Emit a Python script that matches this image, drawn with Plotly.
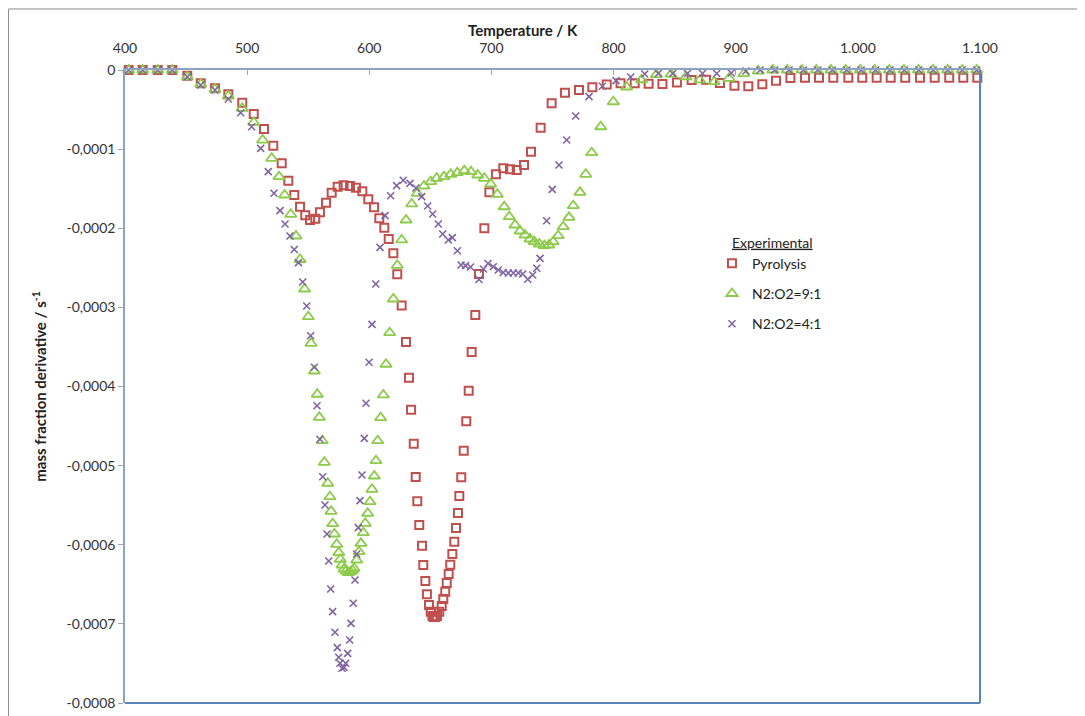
import plotly.graph_objects as go

# Temperature (K) and mass fraction derivative (1/s)
pyro_T = [403, 414.5, 426.8, 438.7, 451.0, 462.0, 473.7, 484.6, 496.0, 505.4, 513.8, 521.4, 528.3, 533.7, 538.6,
          543.3, 547.6, 551.5, 555.8, 559.6, 564.6, 569.2, 574.1, 579.0, 584.2, 589.1, 594.3, 599.2, 603.9, 608.2,
          612.3, 615.9, 619.7, 622.9, 626.5, 630.1, 632.5, 634.2, 636.4, 638.0, 639.3, 640.9, 643.2, 644.2, 645.9,
          647.2, 648.9, 650.3, 651.7, 652.9, 654.1, 655.4, 657.3, 659.3, 660.6, 662.2, 663.4, 665.0, 666.3, 668.0,
          669.6, 671.0, 672.6, 673.7, 675.3, 677.3, 679.4, 681.4, 683.8, 686.8, 689.8, 694.2, 698.3, 703.7, 709.7,
          715.2, 720.7, 726.7, 732.4, 740.3, 749.3, 760.2, 771.7, 782.6, 794.4, 805.7, 817.3, 828.7, 840.0, 851.9,
          863.9, 875.7, 887.1, 899.0, 910.3, 921.8, 933.0, 944.8, 956.7, 968.2, 979.9, 992.2, 1003.6, 1015.4, 1026.9,
          1038.8, 1050.9, 1062.9, 1074.8, 1086.3, 1097.8]
pyro_v = [0, 0, 0, 0, -0.072e-4, -0.168e-4, -0.231e-4, -0.307e-4, -0.413e-4, -0.556e-4, -0.746e-4, -0.957e-4,
          -1.179e-4, -1.399e-4, -1.580e-4, -1.728e-4, -1.836e-4, -1.896e-4, -1.879e-4, -1.798e-4, -1.677e-4,
          -1.551e-4, -1.475e-4, -1.457e-4, -1.466e-4, -1.487e-4, -1.533e-4, -1.634e-4, -1.735e-4, -1.874e-4,
          -1.993e-4, -2.136e-4, -2.317e-4, -2.582e-4, -2.976e-4, -3.438e-4, -3.889e-4, -4.293e-4, -4.723e-4,
          -5.144e-4, -5.451e-4, -5.750e-4, -6.012e-4, -6.256e-4, -6.458e-4, -6.626e-4, -6.761e-4, -6.846e-4,
          -6.900e-4, -6.913e-4, -6.913e-4, -6.900e-4, -6.846e-4, -6.774e-4, -6.685e-4, -6.593e-4, -6.483e-4,
          -6.370e-4, -6.252e-4, -6.117e-4, -5.961e-4, -5.788e-4, -5.599e-4, -5.384e-4, -5.147e-4, -4.811e-4,
          -4.440e-4, -4.053e-4, -3.564e-4, -3.096e-4, -2.578e-4, -2.001e-4, -1.546e-4, -1.318e-4, -1.242e-4,
          -1.255e-4, -1.264e-4, -1.201e-4, -1.033e-4, -0.729e-4, -0.421e-4, -0.287e-4, -0.253e-4, -0.219e-4,
          -0.183e-4, -0.168e-4, -0.168e-4, -0.173e-4, -0.177e-4, -0.158e-4, -0.126e-4, -0.123e-4, -0.164e-4,
          -0.198e-4, -0.205e-4, -0.179e-4, -0.135e-4, -0.101e-4, -0.097e-4, -0.097e-4, -0.097e-4, -0.097e-4,
          -0.097e-4, -0.097e-4, -0.097e-4, -0.097e-4, -0.097e-4, -0.097e-4, -0.097e-4, -0.097e-4, -0.097e-4]

o91_T = [403, 414.5, 426.8, 438.7, 451.0, 462.0, 473.7, 484.6, 496.0, 505.4, 512.7, 520.1, 526.1, 530.7, 535.7,
         540.0, 543.3, 547.0, 550.1, 552.3, 555.0, 557.4, 559.1, 561.5, 563.2, 566.0, 567.8, 568.7, 570.0, 571.4,
         573.3, 575.0, 576.3, 577.7, 579.3, 580.9, 582.8, 584.6, 586.3, 587.5, 589.7, 591.6, 593.2, 595.1, 596.7,
         598.7, 600.6, 602.2, 604.1, 605.5, 606.9, 609.3, 611.5, 613.7, 616.7, 619.7, 622.9, 626.5, 630.1, 634.7,
         639.3, 644.8, 650.3, 655.2, 661.2, 666.7, 672.1, 677.8, 683.3, 688.8, 694.2, 699.4, 704.8, 710.5, 714.6,
         719.3, 723.4, 727.5, 731.6, 735.1, 739.2, 743.3, 747.1, 750.6, 754.7, 758.8, 763.5, 767.0, 772.5, 777.2,
         782.1, 789.5, 799.8, 810.7, 822.9, 835.1, 847.0, 859.3, 870.5, 882.4, 894.5, 906.6, 918.5, 930.3, 942.2,
         954.2, 966.1, 978.0, 990.0, 1001.9, 1013.8, 1025.8, 1037.7, 1049.6, 1061.5, 1073.5, 1085.4, 1097.3]
o91_v = [0, 0, 0, 0, -0.085e-4, -0.177e-4, -0.244e-4, -0.329e-4, -0.484e-4, -0.661e-4, -0.885e-4, -1.116e-4,
         -1.348e-4, -1.580e-4, -1.824e-4, -2.098e-4, -2.395e-4, -2.768e-4, -3.118e-4, -3.454e-4, -3.804e-4,
         -4.098e-4, -4.389e-4, -4.685e-4, -4.958e-4, -5.223e-4, -5.393e-4, -5.577e-4, -5.734e-4, -5.864e-4,
         -5.994e-4, -6.100e-4, -6.184e-4, -6.256e-4, -6.306e-4, -6.331e-4, -6.353e-4, -6.344e-4, -6.325e-4,
         -6.297e-4, -6.193e-4, -6.088e-4, -5.982e-4, -5.848e-4, -5.729e-4, -5.602e-4, -5.456e-4, -5.299e-4,
         -5.131e-4, -4.938e-4, -4.685e-4, -4.394e-4, -4.107e-4, -3.719e-4, -3.320e-4, -2.894e-4, -2.468e-4,
         -2.148e-4, -1.896e-4, -1.693e-4, -1.558e-4, -1.466e-4, -1.412e-4, -1.369e-4, -1.348e-4, -1.318e-4,
         -1.298e-4, -1.273e-4, -1.285e-4, -1.327e-4, -1.369e-4, -1.441e-4, -1.571e-4, -1.728e-4, -1.854e-4,
         -1.959e-4, -2.035e-4, -2.085e-4, -2.136e-4, -2.170e-4, -2.199e-4, -2.220e-4, -2.212e-4, -2.170e-4,
         -2.094e-4, -1.980e-4, -1.862e-4, -1.715e-4, -1.546e-4, -1.318e-4, -1.045e-4, -0.717e-4, -0.401e-4,
         -0.215e-4, -0.123e-4, -0.059e-4, -0.053e-4, -0.085e-4, -0.126e-4, -0.148e-4, -0.105e-4, -0.047e-4,
         -0.013e-4, 0, 0, 0, 0, 0, 0, 0, 0, 0, 0, 0, 0, 0, 0, 0]

o41_T = [403, 414.5, 426.8, 438.7, 451.0, 462.0, 473.7, 484.6, 494.7, 503.7, 511.1, 517.3, 522.0, 526.9, 531.0,
         535.1, 538.6, 542.0, 545.5, 548.8, 552.0, 555.0, 557.2, 559.6, 561.9, 563.7, 565.4, 566.8, 568.4, 570.0,
         571.9, 573.8, 575.0, 576.0, 577.7, 579.3, 580.7, 582.3, 584.0, 585.0, 586.9, 588.3, 589.7, 591.0, 592.4,
         594.0, 595.9, 597.3, 599.8, 602.2, 605.3, 608.8, 612.9, 617.5, 622.4, 627.8, 633.3, 638.2, 642.9, 647.8,
         651.9, 656.5, 660.1, 664.7, 668.0, 672.1, 675.1, 678.8, 682.9, 689.8, 693.5, 697.2, 701.5, 705.6, 709.7,
         713.8, 717.9, 722.0, 725.6, 729.7, 733.8, 737.1, 739.8, 745.2, 749.8, 755.3, 761.6, 769.0, 779.9, 790.8,
         802.0, 814.0, 825.5, 836.6, 848.4, 860.5, 872.8, 884.4, 896.4, 908.4, 919.9, 931.8, 943.6, 955.4, 967.2,
         979.0, 990.9, 1002.7, 1014.5, 1026.3, 1038.1, 1049.9, 1061.7, 1073.6, 1085.4, 1097.3]
o41_v = [0, 0, 0, 0, -0.085e-4, -0.190e-4, -0.253e-4, -0.367e-4, -0.540e-4, -0.717e-4, -0.990e-4, -1.285e-4,
         -1.558e-4, -1.778e-4, -1.946e-4, -2.098e-4, -2.268e-4, -2.435e-4, -2.679e-4, -2.983e-4, -3.358e-4,
         -3.757e-4, -4.243e-4, -4.667e-4, -5.140e-4, -5.498e-4, -5.864e-4, -6.205e-4, -6.559e-4, -6.846e-4,
         -7.106e-4, -7.301e-4, -7.422e-4, -7.498e-4, -7.561e-4, -7.549e-4, -7.498e-4, -7.372e-4, -7.204e-4,
         -6.993e-4, -6.740e-4, -6.445e-4, -6.117e-4, -5.784e-4, -5.443e-4, -5.118e-4, -4.655e-4, -4.212e-4,
         -3.694e-4, -3.214e-4, -2.705e-4, -2.241e-4, -1.841e-4, -1.589e-4, -1.462e-4, -1.394e-4, -1.432e-4,
         -1.491e-4, -1.601e-4, -1.719e-4, -1.820e-4, -1.946e-4, -2.073e-4, -2.148e-4, -2.119e-4, -2.284e-4,
         -2.464e-4, -2.473e-4, -2.490e-4, -2.648e-4, -2.515e-4, -2.445e-4, -2.486e-4, -2.528e-4, -2.559e-4,
         -2.566e-4, -2.566e-4, -2.566e-4, -2.578e-4, -2.645e-4, -2.591e-4, -2.506e-4, -2.380e-4, -1.905e-4,
         -1.508e-4, -1.201e-4, -0.885e-4, -0.581e-4, -0.337e-4, -0.206e-4, -0.135e-4, -0.088e-4, -0.051e-4,
         -0.044e-4, -0.044e-4, -0.044e-4, -0.044e-4, -0.044e-4, -0.038e-4, -0.013e-4, 0,
         0, 0, 0, 0, 0, 0, 0, 0, 0, 0, 0, 0, 0, 0, 0]

series_names = ["Pyrolysis", "N2:O2=9:1", "N2:O2=4:1"]
x_tickvals = [400, 500, 600, 700, 800, 900, 1000, 1100]
x_ticktext = ["400", "500", "600", "700", "800", "900", "1.000", "1.100"]
y_tickvals = [0, -0.0001, -0.0002, -0.0003, -0.0004, -0.0005, -0.0006, -0.0007, -0.0008]
y_ticktext = ["0", "-0,0001", "-0,0002", "-0,0003", "-0,0004", "-0,0005", "-0,0006", "-0,0007", "-0,0008"]

FONT = "Lato, 'Open Sans', sans-serif"

fig = go.Figure()
fig.add_trace(go.Scatter(
    x=pyro_T, y=pyro_v, mode="markers", name=series_names[0], legendgroup="a", cliponaxis=False,
    marker=dict(symbol="square-open", size=8, color="#C0504D", line=dict(width=2, color="#C0504D"))))
fig.add_trace(go.Scatter(
    x=o91_T, y=o91_v, mode="markers", name=series_names[1], legendgroup="b", cliponaxis=False,
    marker=dict(symbol="triangle-up-open", size=10, color="#8CCB4A", line=dict(width=1.8, color="#8CCB4A"))))
fig.add_trace(go.Scatter(
    x=o41_T, y=o41_v, mode="markers", name=series_names[2], legendgroup="c", cliponaxis=False,
    marker=dict(symbol="x-thin-open", size=7, color="#8064A2", line=dict(width=1.6, color="#8064A2"))))

fig.update_layout(
    width=1085, height=716,
    margin=dict(l=117, r=113, t=62, b=21),
    paper_bgcolor="white", plot_bgcolor="white",
    font=dict(family=FONT, size=14, color="#222222"),
    showlegend=True,
    legend=dict(
        x=0.6865, y=0.748, xanchor="left", yanchor="top",
        title=dict(text="&nbsp;&nbsp;&nbsp;&nbsp;&nbsp;<u>Experimental</u>", font=dict(size=14, color="#222222")),
        font=dict(size=14, color="#222222"),
        tracegroupgap=9, bgcolor="rgba(0,0,0,0)", itemsizing="trace", itemwidth=30,
    ),
    xaxis=dict(
        side="top", range=[400, 1100], tickvals=x_tickvals, ticktext=x_ticktext,
        ticks="inside", ticklen=5, tickcolor="#9AA6B8", showgrid=False, zeroline=False,
        showline=True, linecolor="#8EA3C1", linewidth=1.5,
        tickfont=dict(size=14, color="#333333"), ticklabelstandoff=10,
    ),
    yaxis=dict(
        range=[-0.0008, 0], tickvals=y_tickvals, ticktext=y_ticktext,
        ticks="outside", ticklen=5, tickcolor="#9AA6B8", showgrid=False, zeroline=False,
        showline=True, linecolor="#8EA3C1", linewidth=1.5,
        tickfont=dict(size=14, color="#333333"),
        title=dict(text="<b>mass fraction derivative / s<sup>-1</sup></b>", font=dict(size=15, color="#222222"),
                   standoff=16),
    ),
)

# x-axis title (placed slightly left of the plot centre, as in the original)
fig.add_annotation(text="<b>Temperature / K</b>", xref="paper", yref="paper", x=0.4655, y=1.0632,
                   xanchor="center", yanchor="middle", showarrow=False,
                   font=dict(size=15, color="#222222", family=FONT))

# plot-area right & bottom border
fig.add_shape(type="line", xref="paper", yref="paper", x0=1, x1=1, y0=0, y1=1,
              line=dict(color="#5B84BE", width=2))
fig.add_shape(type="line", xref="paper", yref="paper", x0=0, x1=1, y0=0, y1=0,
              line=dict(color="#5B84BE", width=2))
# outer chart frame (top and left)
fig.add_shape(type="line", xref="paper", yref="paper", x0=-0.1363, x1=1.2, y0=1.0964, y1=1.0964,
              line=dict(color="#8C8C8C", width=1))
fig.add_shape(type="line", xref="paper", yref="paper", x0=-0.1363, x1=-0.1363, y0=-0.05, y1=1.0964,
              line=dict(color="#8C8C8C", width=1))

fig.write_html("out.html")
